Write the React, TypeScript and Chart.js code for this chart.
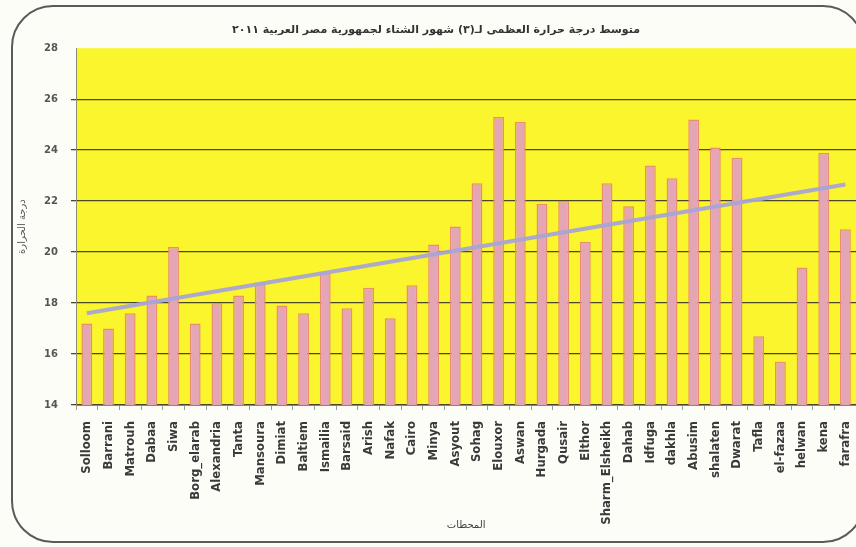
import React, { useEffect, useRef } from 'react';
import { Chart, registerables } from 'chart.js';

Chart.register(...registerables);

// ---- data ----
const stations: string[] = [
  'Solloom', 'Barrani', 'Matrouh', 'Dabaa', 'Siwa', 'Borg_elarab', 'Alexandria', 'Tanta',
  'Mansoura', 'Dimiat', 'Baltiem', 'Ismailia', 'Barsaid', 'Arish', 'Nafak', 'Cairo',
  'Minya', 'Asyout', 'Sohag', 'Elouxor', 'Aswan', 'Hurgada', 'Qusair', 'Elthor',
  'Sharm_Elsheikh', 'Dahab', 'Idfuga', 'dakhla', 'Abusim', 'shalaten', 'Dwarat', 'Tafla',
  'el-fazaa', 'helwan', 'kena', 'farafra',
];

const maxTemps: number[] = [
  17.2, 17.0, 17.6, 18.3, 20.2, 17.2, 18.0, 18.3,
  18.8, 17.9, 17.6, 19.2, 17.8, 18.6, 17.4, 18.7,
  20.3, 21.0, 22.7, 25.3, 25.1, 21.9, 22.0, 20.4,
  22.7, 21.8, 23.4, 22.9, 25.2, 24.1, 23.7, 16.7,
  15.7, 19.4, 23.9, 20.9,
];

// linear trend line: values read at first and last station
const trendStart = 17.6;
const trendEnd = 22.65;

const yTicks = { min: 14, max: 28, step: 2 };

const chartTitle = 'متوسط درجة حرارة العظمى لـ(٣) شهور الشتاء لجمهورية مصر العربية ٢٠١١';
const yAxisTitle = 'درجة الحرارة';
const xAxisTitle = 'المحطات';

// ---- styles ----
const PLOT_BG = '#FAF52C';
const BAR_FILL = '#E4A6B4';
const BAR_EDGE = '#E8906E';
const TREND = 'rgba(168,164,214,0.95)';
const GRID = '#4A4828';
const CANVAS_W = 872;

const plotBackground = {
  id: 'plotBackground',
  beforeDraw(chart: any) {
    const { ctx, chartArea } = chart;
    if (!chartArea) return;
    ctx.save();
    ctx.fillStyle = PLOT_BG;
    ctx.fillRect(chartArea.left, chartArea.top, chartArea.right - chartArea.left, chartArea.bottom - chartArea.top);
    ctx.restore();
  },
};

export default function App() {
  const canvasRef = useRef<HTMLCanvasElement | null>(null);

  useEffect(() => {
    document.body.style.margin = '0';
    const canvas = canvasRef.current;
    if (!canvas) return;

    const trend = stations.map((_, i) =>
      i === 0 ? trendStart : i === stations.length - 1 ? trendEnd : null
    );

    const chart = new Chart(canvas, {
      type: 'bar',
      data: {
        labels: stations,
        datasets: [
          {
            type: 'line',
            label: 'trend',
            data: trend as any,
            borderColor: TREND,
            borderWidth: 4,
            pointRadius: 0,
            spanGaps: true,
            fill: false,
            order: 0,
          } as any,
          {
            type: 'bar',
            label: 'temp',
            data: maxTemps,
            backgroundColor: BAR_FILL,
            borderColor: BAR_EDGE,
            borderWidth: 1.5,
            categoryPercentage: 1,
            barPercentage: 0.5,
            order: 1,
          } as any,
        ],
      },
      options: {
        animation: false,
        responsive: false,
        maintainAspectRatio: false,
        layout: { padding: { left: 0, right: 0, top: 0, bottom: 0 } },
        plugins: {
          legend: { display: false },
          tooltip: { enabled: false },
          title: {
            display: true,
            text: chartTitle,
            color: '#333',
            font: { family: 'DejaVu Sans', size: 11, weight: 'bold' },
            padding: { top: 24, bottom: 11 },
          },
        },
        scales: {
          x: {
            offset: true,
            grid: {
              display: true,
              drawOnChartArea: false,
              drawTicks: true,
              tickLength: 5,
              color: '#999',
              offset: true,
            },
            border: { display: true, color: '#8a8a70', width: 1 },
            ticks: {
              autoSkip: false,
              minRotation: 90,
              maxRotation: 90,
              padding: 11,
              color: '#3a3a3a',
              font: { family: 'DejaVu Sans Condensed, DejaVu Sans', size: 13, weight: 'bold' },
            },
            title: {
              display: true,
              text: xAxisTitle,
              color: '#444',
              font: { family: 'DejaVu Sans', size: 10 },
              padding: { top: 0, bottom: 16 },
            },
            afterFit(scale: any) {
              scale.height = 142;
            },
          },
          y: {
            min: yTicks.min,
            max: yTicks.max,
            grid: {
              color: (ctx: any) => (ctx.tick && ctx.tick.value === yTicks.max ? 'rgba(0,0,0,0)' : GRID),
              lineWidth: 1.3,
              tickLength: 5,
            },
            border: { display: true, color: '#8a8a70', width: 1 },
            ticks: {
              stepSize: yTicks.step,
              padding: 13,
              color: '#555',
              font: { family: 'DejaVu Sans', size: 10, weight: 'bold' },
            },
            title: {
              display: true,
              text: yAxisTitle,
              color: '#555',
              font: { family: 'DejaVu Sans', size: 10 },
              padding: { top: 16, bottom: 0 },
            },
            afterFit(scale: any) {
              scale.width = 76;
            },
          },
        },
      },
      plugins: [plotBackground],
    });

    return () => chart.destroy();
  }, []);

  return (
    <div style={{ position: 'relative', width: 856, height: 547, overflow: 'hidden', background: '#fdfdf8' }}>
      <canvas
        ref={canvasRef}
        width={CANVAS_W}
        height={547}
        dir="rtl"
        style={{ position: 'absolute', left: 0, top: 0, width: CANVAS_W, height: 547, direction: 'rtl' }}
      />
      <div
        style={{
          position: 'absolute',
          left: 11,
          top: 5,
          width: 850,
          height: 534,
          border: '2px solid #5a5a5a',
          borderRadius: 42,
          pointerEvents: 'none',
        }}
      />
    </div>
  );
}
